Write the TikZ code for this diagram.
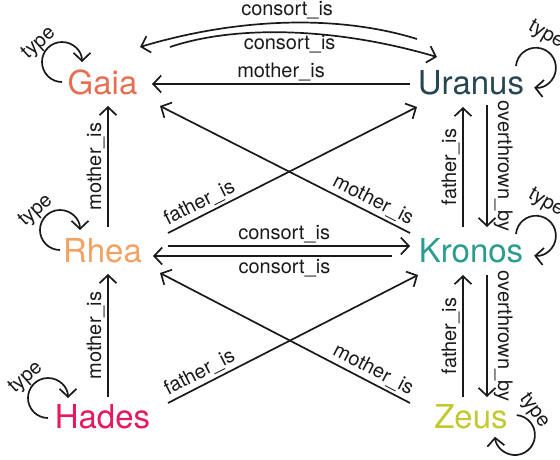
\documentclass[tikz,border=0pt]{standalone}
\usepackage{fontspec}
\setmainfont{TeX Gyre Heros}
\usetikzlibrary{arrows.meta}
\definecolor{cgaia}{HTML}{E76F51}
\definecolor{curanus}{HTML}{264653}
\definecolor{crhea}{HTML}{F4A261}
\definecolor{ckronos}{HTML}{2A9D8F}
\definecolor{chades}{HTML}{E6195C}
\definecolor{czeus}{HTML}{C3C932}
\definecolor{cline}{HTML}{1A1A1A}
\begin{document}
\begin{tikzpicture}[x=1pt,y=-1pt,
  god/.style={font=\fontsize{33}{40}\selectfont, inner sep=0pt, anchor=base},
  lbl/.style={font=\fontsize{20}{24}\selectfont, text=cline, inner sep=2.5pt},
  rel/.style={line width=1.7pt, draw=cline, -{Straight Barb[length=8pt,width=17pt]}},
]
\useasboundingbox (0,0) rectangle (560,459);

\node[god, text=cgaia]   (gaia)   at (102.5,94)  {Gaia};
\node[god, text=curanus] (uranus) at (471,94)    {Uranus};
\node[god, text=crhea]   (rhea)   at (102.5,262) {Rhea};
\node[god, text=ckronos] (kronos) at (471,262)   {Kronos};
\node[god, text=chades]  (hades)  at (102.5,428) {Hades};
\node[god, text=czeus]   (zeus)   at (471,428)   {Zeus};

% top consort curves
\draw[rel] ([shift={(-54,-55)}]uranus.base) .. controls (340,15) and (240,17) ..
  node[lbl, above] {consort\_is} ([shift={(37.5,-47)}]gaia.base);
\draw[rel] ([shift={(67.5,-47)}]gaia.base) .. controls (235,25) and (335,27) ..
  node[lbl, below] {consort\_is} ([shift={(-34,-37)}]uranus.base);
% Uranus -> Gaia mother
\draw[rel] ([shift={(-61,-10)}]uranus.base) -- node[lbl, above] {mother\_is} ([shift={(49.5,-10)}]gaia.base);

% verticals left
\draw[rel] ([shift={(5.5,-35)}]rhea.base) -- node[lbl, midway, rotate=90, anchor=south] {mother\_is} ([shift={(5.5,12)}]gaia.base);
\draw[rel] ([shift={(5.5,-31)}]hades.base) -- node[lbl, midway, rotate=90, anchor=south] {mother\_is} ([shift={(5.5,12)}]rhea.base);
% verticals right
\draw[rel] ([shift={(-8,-35)}]kronos.base) -- node[lbl, midway, rotate=90, anchor=south] {father\_is} ([shift={(-8,13)}]uranus.base);
\draw[rel] ([shift={(16,11)}]uranus.base) -- node[lbl, midway, rotate=-90, anchor=south, inner sep=6pt] {overthrown\_by} ([shift={(16,-35)}]kronos.base);
\draw[rel] ([shift={(-8,-31)}]zeus.base) -- node[lbl, midway, rotate=90, anchor=south] {father\_is} ([shift={(-8,13)}]kronos.base);
\draw[rel] ([shift={(16,13)}]kronos.base) -- node[lbl, midway, rotate=-90, anchor=south, inner sep=6pt] {overthrown\_by} ([shift={(16,-31)}]zeus.base);

% Rhea <-> Kronos consort
\draw[rel] ([shift={(65.5,-16)}]rhea.base) -- node[lbl, pos=0.48, above] {consort\_is} ([shift={(-61,-16)}]kronos.base);
\draw[rel] ([shift={(-79,-6)}]kronos.base) -- node[lbl, pos=0.45, below] {consort\_is} ([shift={(50.5,-6)}]rhea.base);

% diagonals
\draw[rel] ([shift={(65.5,-29)}]rhea.base) -- node[lbl, pos=0.15, rotate=26.8, anchor=south] {father\_is} ([shift={(-54,13)}]uranus.base);
\draw[rel] ([shift={(-61,-29)}]kronos.base) -- node[lbl, pos=0.17, rotate=-26.9, anchor=south] {mother\_is} ([shift={(57.5,12)}]gaia.base);
\draw[rel] ([shift={(65.5,-25)}]hades.base) -- node[lbl, pos=0.15, rotate=27.1, anchor=south] {father\_is} ([shift={(-53,13)}]kronos.base);
\draw[rel] ([shift={(-61,-25)}]zeus.base) -- node[lbl, pos=0.17, rotate=-27.5, anchor=south] {mother\_is} ([shift={(57.5,11)}]rhea.base);

% type loops
\draw[rel] ([shift={(-40.5,-12)}]gaia.base) arc[start angle=-90, end angle=-360, radius=20pt];
\node[lbl, rotate=42] (tgaia) at ([shift={(-63.5,-50.5)}]gaia.base) {type};
\draw[rel] ([shift={(-42.5,-12)}]rhea.base) arc[start angle=-90, end angle=-360, radius=20pt];
\node[lbl, rotate=42] (trhea) at ([shift={(-66.5,-51)}]rhea.base) {type};
\draw[rel] ([shift={(-54.5,-10)}]hades.base) arc[start angle=-90, end angle=-360, radius=20pt];
\node[lbl, rotate=42] (thades) at ([shift={(-76.5,-50)}]hades.base) {type};
\draw[rel] ([shift={(45,-28)}]uranus.base) arc[start angle=175, end angle=-95, radius=20pt];
\node[lbl, rotate=-30] (turanus) at ([shift={(75,-59)}]uranus.base) {type};
\draw[rel] ([shift={(45,-28)}]kronos.base) arc[start angle=175, end angle=-95, radius=20pt];
\node[lbl, rotate=-30] (tkronos) at ([shift={(75,-59)}]kronos.base) {type};
\draw[rel] ([shift={(45.7,-12.9)}]zeus.base) arc[start angle=85, end angle=-175, radius=20pt];
\node[lbl, rotate=-55] (tzeus) at ([shift={(63,-17)}]zeus.base) {type};
\end{tikzpicture}
\end{document}
